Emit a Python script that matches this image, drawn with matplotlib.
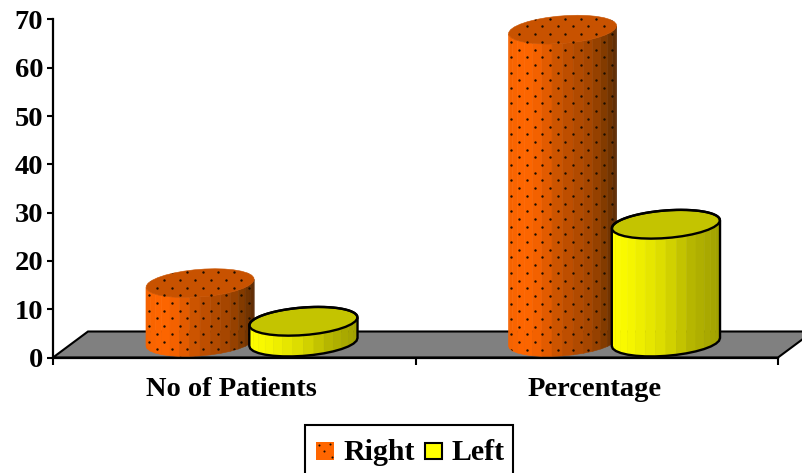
import numpy as np
import matplotlib
matplotlib.use("Agg")
import matplotlib.pyplot as plt
from matplotlib.patches import Polygon, Rectangle

categories = ["No of Patients", "Percentage"]
right_values = [12.2, 64.7]
left_values = [4.3, 24.4]
y_ticks = [0, 10, 20, 30, 40, 50, 60, 70]
series_names = ["Right", "Left"]

W, H = 802, 473
plt.rcParams["font.family"] = ["Liberation Serif", "DejaVu Serif"]
plt.rcParams["font.weight"] = "bold"

fig = plt.figure(figsize=(W / 100, H / 100), dpi=100, facecolor="white")
ax = fig.add_axes([53 / W, (H - 357.5) / H, 725 / W, 338 / H])
ax.set_xlim(0, 2)
ax.set_ylim(0, 70)

PX_X = 725 / 2   # pixels per category
PX_Y = 338 / 70  # pixels per value unit

# fake 3d floor
depth_x, depth_y = 35 / PX_X, 26 / PX_Y
ax.add_patch(Polygon([(0, 0), (depth_x, depth_y), (2 + depth_x, depth_y), (2, 0)],
                     closed=True, facecolor="#808080", edgecolor="black",
                     lw=1.5, clip_on=False, zorder=1))

# cylinder geometry, the base ellipse is sheared along the depth direction
BAR_W = 0.285
RADIUS = 52 / PX_X
HALF_X, HALF_Y = 15 / PX_X, 14.4 / PX_Y
BASE_DX, BASE_DY = 17.5 / PX_X, 3.2
N_FACETS = 16

ORANGE_POS = [0, 0.15, 0.3, 0.47, 0.78, 0.92, 1]
ORANGE_RGB = ["#f56200", "#ff6600", "#ef6000", "#c85200", "#a04400", "#7a3800", "#5a2a05"]
YELLOW_POS = [0, 0.2, 0.5, 0.75, 1]
YELLOW_RGB = ["#ffff00", "#f4f400", "#d8d800", "#b4b400", "#a0a000"]


def ramp(u, pos, colors):
    rgb = np.array([matplotlib.colors.to_rgb(c) for c in colors])
    return [np.interp(u, pos, rgb[:, i]) for i in range(3)]


def rim(cx, cy, t):
    return (cx + RADIUS * np.cos(t) + HALF_X * np.sin(t),
            cy + HALF_Y * np.sin(t))


def cylinder(x, value, pos, colors, top_color, outline, z, dotted):
    cx = x + BASE_DX
    t0 = np.arctan2(HALF_X, RADIUS)
    # front arc runs from the left extreme through the bottom to the right one
    t = np.linspace(t0 + np.pi, t0 + 2 * np.pi, N_FACETS + 1)
    bx, by = rim(cx, BASE_DY, t)
    tx, ty = rim(cx, BASE_DY + value, t)
    for i in range(N_FACETS):
        u = (i + 0.5) / N_FACETS
        u = (1 - np.cos(u * np.pi)) / 2
        c = ramp(u, pos, colors)
        ax.add_patch(Polygon([(bx[i], by[i]), (bx[i + 1], by[i + 1]),
                              (tx[i + 1], ty[i + 1]), (tx[i], ty[i])],
                             closed=True, facecolor=c, edgecolor=c, lw=0.4,
                             clip_on=False, zorder=z))
    around = np.linspace(0, 2 * np.pi, 2 * N_FACETS + 1)
    ex, ey = rim(cx, BASE_DY + value, around)
    ax.add_patch(Polygon(np.column_stack([ex, ey]), closed=True, facecolor=top_color,
                         edgecolor=outline if outline else top_color,
                         lw=1.7 if outline else 0.4, clip_on=False, zorder=z + 0.2))

    # silhouette: front of the base, then the back half of the top rim
    back = np.linspace(t0, t0 + np.pi, N_FACETS + 1)
    rx, ry = rim(cx, BASE_DY + value, back)
    sx = np.concatenate([bx, rx])
    sy = np.concatenate([by, ry])
    outer = Polygon(np.column_stack([sx, sy]), closed=True, facecolor="none",
                    edgecolor=outline if outline else "none", lw=1.7,
                    clip_on=False, zorder=z + 0.3)
    ax.add_patch(outer)

    if dotted:
        left, top_y = sx.min(), sy.max()
        rows = np.arange(top_y - 3.5 / PX_Y, -1, -7.7 / PX_Y)
        dx, dy = [], []
        for n, row_y in enumerate(rows):
            start = left + (10.7 if n % 2 == 0 else 3.0) / PX_X
            col = np.arange(start, sx.max(), 15.4 / PX_X)
            dx.extend(col)
            dy.extend([row_y] * len(col))
        dots = ax.scatter(dx, dy, s=3.0, color="#1a0d00", linewidths=0,
                          zorder=z + 0.4)
        dots.set_clip_path(outer)


x_centers = np.arange(len(categories)) + 0.5
for k, xc in enumerate(x_centers):
    cylinder(xc - BAR_W / 2, right_values[k], ORANGE_POS, ORANGE_RGB,
             "#c85200", None, 3 + k, True)
    cylinder(xc + BAR_W / 2, left_values[k], YELLOW_POS, YELLOW_RGB,
             "#c4c400", "black", 3.5 + k, False)

# axes
for side in ("top", "right"):
    ax.spines[side].set_visible(False)
for side in ("left", "bottom"):
    ax.spines[side].set_linewidth(1.6)
    ax.spines[side].set_zorder(10)
ax.set_yticks(y_ticks)
ax.tick_params(axis="y", length=4, width=1.5, labelsize=20.5, pad=3)
ax.set_xticks([0, 1, 2])
ax.set_xticklabels([])
ax.tick_params(axis="x", which="major", length=5, width=1.5)
ax.set_xticks(x_centers - 0.007, minor=True)
ax.set_xticklabels(categories, minor=True, fontsize=20.5)
ax.tick_params(axis="x", which="minor", length=0, pad=14)

# legend box runs off the bottom edge of the figure
def fx(px):
    return px / W


def fy(py):
    return 1 - py / H


fig.add_artist(Rectangle((fx(305), fy(480)), 208 / W, 55 / H, facecolor="white",
                         edgecolor="black", lw=1.5, transform=fig.transFigure))
fig.add_artist(Rectangle((fx(316), fy(460)), 18 / W, 18 / H, facecolor="#ff6600",
                         edgecolor="none", transform=fig.transFigure))
fig.add_artist(plt.Line2D([fx(319), fx(330), fx(324), fx(332)],
                          [fy(445), fy(444), fy(451), fy(457)], ls="none",
                          marker="o", ms=1.5, mew=0, color="#1a0d00",
                          transform=fig.transFigure))
fig.add_artist(Rectangle((fx(425), fy(459)), 17 / W, 16 / H, facecolor="#ffff00",
                         edgecolor="black", lw=1.5, transform=fig.transFigure))
fig.text(fx(343), fy(452), series_names[0], fontsize=21.5, va="center", ha="left")
fig.text(fx(452), fy(452), series_names[1], fontsize=21.5, va="center", ha="left")

fig.savefig("out.png", dpi=100, facecolor="white")
